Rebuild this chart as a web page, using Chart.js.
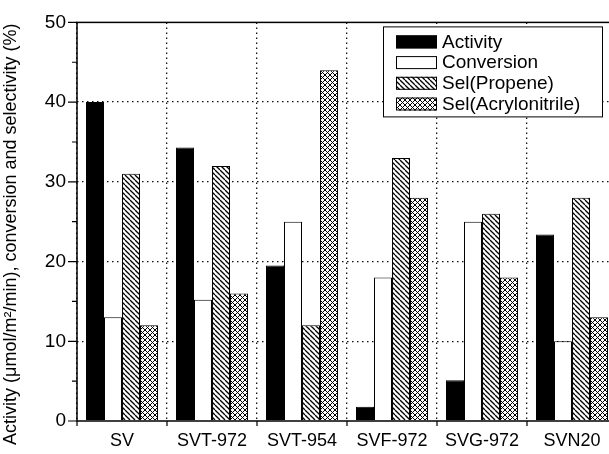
<!DOCTYPE html>
<html lang="en">
<head>
<meta charset="UTF-8">
<title>Activity, conversion and selectivity</title>
<script src="https://cdn.jsdelivr.net/npm/chart.js"></script>
<style>
  html, body { margin: 0; padding: 0; background: #fff; overflow: hidden; }
  #wrap { width: 640px; height: 454px; }
</style>
</head>
<body>
<div id="wrap"><canvas id="grafico" width="640" height="454"></canvas></div>
<script>
  const categories = ["SV", "SVT-972", "SVT-954", "SVF-972", "SVG-972", "SVN20"];
  const activity = [40, 34.3, 19.5, 1.8, 5.1, 23.4];
  const conversion = [13, 15.2, 25, 18, 25, 10];
  const selPropene = [31, 32, 12, 33, 26, 28];
  const selAcrylonitrile = [12, 16, 44, 28, 18, 13];
  const seriesNames = ["Activity", "Conversion", "Sel(Propene)", "Sel(Acrylonitrile)"];
  // espacios al final: centra el titulo un poco mas abajo, como en la figura
  const yTitle = "Activity (\u03bcmol/m\u00b2/min), conversion and selectivity (%)     ";

  const fuente = "'Liberation Sans', Arial, sans-serif";

  // rayado para las barras de selectividad
  function rayado(dirs, s, lw) {
    const c = document.createElement("canvas");
    c.width = s; c.height = s;
    const g = c.getContext("2d");
    g.fillStyle = "#fff";
    g.fillRect(0, 0, s, s);
    g.strokeStyle = "#000";
    g.lineWidth = lw;
    dirs.forEach(d => {
      for (let k = -1; k <= 1; k++) {
        g.beginPath();
        if (d === "\\") { g.moveTo(k * s, 0); g.lineTo(k * s + s, s); }
        else { g.moveTo(k * s, s); g.lineTo(k * s + s, 0); }
        g.stroke();
      }
    });
    return g.createPattern(c, "repeat");
  }

  const colores = ["#000", "#fff", rayado(["\\"], 5, 1.3), rayado(["\\", "/"], 5, 1)];

  // marco, marcas de los ejes
  const marco = {
    id: "marco",
    afterDraw(chart) {
      const { ctx, chartArea: a, scales } = chart;
      ctx.save();
      ctx.strokeStyle = "#000";
      ctx.lineWidth = 1.5;
      ctx.strokeRect(a.left, a.top, a.right - a.left, a.bottom - a.top);
      ctx.lineWidth = 1.2;
      ctx.beginPath();
      for (let v = 0; v <= 50; v += 5) {
        const y = scales.y.getPixelForValue(v);
        ctx.moveTo(a.left - (v % 10 === 0 ? 9 : 5), y);
        ctx.lineTo(a.left, y);
      }
      for (let i = 0; i <= categories.length; i++) {
        const x = scales.x.getPixelForValue(i - 0.5);
        ctx.moveTo(x, a.bottom);
        ctx.lineTo(x, a.bottom + 5);
      }
      ctx.stroke();
      ctx.restore();
    }
  };

  // leyenda dentro del area
  const leyenda = {
    id: "leyenda",
    afterDraw(chart) {
      const { ctx, chartArea: a } = chart;
      const x0 = a.right - 234, y0 = a.top + 4, w = 219, h = 90;
      ctx.save();
      ctx.fillStyle = "#fff";
      ctx.fillRect(x0, y0, w, h);
      ctx.strokeStyle = "#000";
      ctx.lineWidth = 1;
      ctx.strokeRect(x0 + 0.5, y0 + 0.5, w, h);
      ctx.font = "19px " + fuente;
      ctx.textBaseline = "middle";
      chart.data.datasets.forEach((ds, i) => {
        const cy = y0 + 15 + i * 20.7;
        ctx.fillStyle = ds.backgroundColor;
        ctx.fillRect(x0 + 13, cy - 6, 41, 13);
        ctx.strokeRect(x0 + 13.5, cy - 5.5, 40, 12);
        ctx.fillStyle = "#000";
        ctx.fillText(ds.label, x0 + 59, cy + 1);
      });
      ctx.restore();
    }
  };

  const series = [activity, conversion, selPropene, selAcrylonitrile];

  new Chart(document.getElementById("grafico"), {
    type: "bar",
    data: {
      labels: categories,
      datasets: series.map((d, i) => ({
        label: seriesNames[i],
        data: d,
        backgroundColor: colores[i],
        borderColor: "#000",
        borderWidth: 1
      }))
    },
    options: {
      responsive: false,
      animation: false,
      layout: { padding: { top: 19, right: 23, left: 0, bottom: 0 } },
      datasets: { bar: { categoryPercentage: 0.8, barPercentage: 1 } },
      plugins: { legend: { display: false }, tooltip: { enabled: false } },
      scales: {
        x: {
          grid: { offset: true, color: "#111", lineWidth: 1.3, borderDash: [1.5, 3.5], drawTicks: false },
          border: { display: false, dash: [1.5, 3.5] },
          ticks: { color: "#000", font: { family: fuente, size: 18 }, padding: 9 },
          afterFit: s => { s.height = 33; }
        },
        y: {
          min: 0,
          max: 50,
          grid: {
            color: c => (c.tick && c.tick.value % 50 === 0 ? "rgba(0,0,0,0)" : "#111"),
            lineWidth: 1.3, borderDash: [1.5, 3.5], drawTicks: false
          },
          border: { display: false, dash: [1.5, 3.5] },
          ticks: { stepSize: 10, color: "#000", font: { family: fuente, size: 19 }, padding: 11 },
          title: { display: true, text: yTitle, color: "#000", font: { family: fuente, size: 18 }, padding: 0 },
          afterFit: s => { s.width = 77; }
        }
      }
    },
    plugins: [marco, leyenda]
  });
</script>
</body>
</html>
